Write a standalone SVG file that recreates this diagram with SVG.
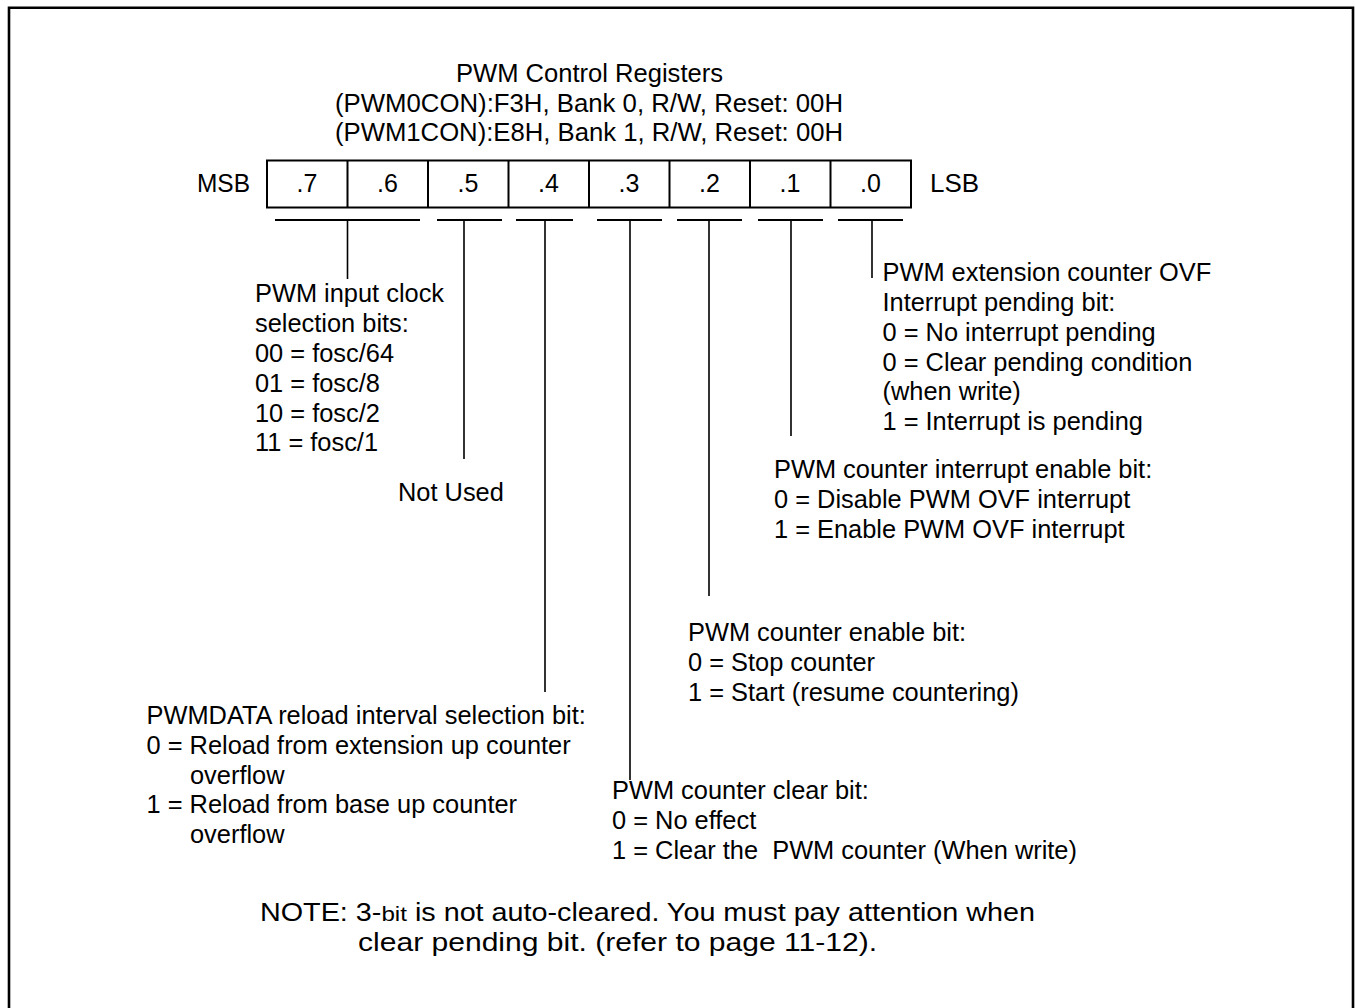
<svg xmlns="http://www.w3.org/2000/svg" width="1355" height="1008" viewBox="0 0 1355 1008">
<style>
text{font-family:"Liberation Sans",Arial,sans-serif;fill:#000}
.b{font-size:25.4px}
.n{font-family:"Liberation Sans Narrow","Liberation Sans",Arial,sans-serif;font-size:25px}
.bit{text-anchor:middle}
.cell{fill:none;stroke:#000;stroke-width:2}
.bar{stroke:#000;stroke-width:2;fill:none}
.lead{stroke:#000;stroke-width:1.6;fill:none}
</style>
<rect width="1355" height="1008" fill="#fff"/>
<path d="M9,1010 V7.7 H1353 V1010" fill="none" stroke="#000" stroke-width="2.6"/>
<g id="title">
<text class="n" x="589.5" y="82" text-anchor="middle" textLength="267" lengthAdjust="spacingAndGlyphs">PWM Control Registers</text>
<text class="n" x="589" y="112" text-anchor="middle" textLength="508" lengthAdjust="spacingAndGlyphs">(PWM0CON):F3H, Bank 0, R/W, Reset: 00H</text>
<text class="n" x="589" y="141" text-anchor="middle" textLength="508" lengthAdjust="spacingAndGlyphs">(PWM1CON):E8H, Bank 1, R/W, Reset: 00H</text>
</g>
<g id="register">
<text class="n" x="197" y="192" textLength="53" lengthAdjust="spacingAndGlyphs">MSB</text>
<rect class="cell" x="267" y="160.5" width="644" height="47"/>
<path class="cell" d="M347.5,160.5V207.5M428,160.5V207.5M508.5,160.5V207.5M589,160.5V207.5M669.5,160.5V207.5M750,160.5V207.5M830.5,160.5V207.5"/>
<text class="n bit" x="307" y="192">.7</text>
<text class="n bit" x="387.5" y="192">.6</text>
<text class="n bit" x="468" y="192">.5</text>
<text class="n bit" x="548.5" y="192">.4</text>
<text class="n bit" x="629" y="192">.3</text>
<text class="n bit" x="709.5" y="192">.2</text>
<text class="n bit" x="790" y="192">.1</text>
<text class="n bit" x="870.5" y="192">.0</text>
<text class="n" x="930" y="192" textLength="49" lengthAdjust="spacingAndGlyphs">LSB</text>
</g>
<g id="connectors">
<path class="bar" d="M275,220H420M437,220H502M516,220H573M597,220H662M677,220H742M758,220H823M838,220H903"/>
<path class="lead" d="M347.5,220V279M464,220V459M545,220V692M630,220V780M709,220V596M791,220V436M872,220V278"/>
</g>
<g id="bits76" class="b">
<text x="255" y="301.7">PWM input clock</text>
<text x="255" y="331.5">selection bits:</text>
<text x="255" y="361.5">00 = fosc/64</text>
<text x="255" y="391.5">01 = fosc/8</text>
<text x="255" y="421.5">10 = fosc/2</text>
<text x="255" y="450.7">11 = fosc/1</text>
</g>
<g id="bit5" class="b">
<text x="398" y="501">Not Used</text>
</g>
<g id="bit4" class="b">
<text x="146.5" y="724">PWMDATA reload interval selection bit:</text>
<text x="146.5" y="754">0 = Reload from extension up counter</text>
<text x="190" y="784">overflow</text>
<text x="146.5" y="813">1 = Reload from base up counter</text>
<text x="190" y="843">overflow</text>
</g>
<g id="bit3" class="b">
<text x="612" y="799">PWM counter clear bit:</text>
<text x="612" y="829">0 = No effect</text>
<text x="612" y="859" xml:space="preserve">1 = Clear the  PWM counter (When write)</text>
</g>
<g id="bit2" class="b">
<text x="688" y="641">PWM counter enable bit:</text>
<text x="688" y="671">0 = Stop counter</text>
<text x="688" y="701">1 = Start (resume countering)</text>
</g>
<g id="bit1" class="b">
<text x="774" y="478">PWM counter interrupt enable bit:</text>
<text x="774" y="508">0 = Disable PWM OVF interrupt</text>
<text x="774" y="538">1 = Enable PWM OVF interrupt</text>
</g>
<g id="bit0" class="b">
<text x="882.5" y="280.7">PWM extension counter OVF</text>
<text x="882.5" y="310.7">Interrupt pending bit:</text>
<text x="882.5" y="340.7">0 = No interrupt pending</text>
<text x="882.5" y="370.7">0 = Clear pending condition</text>
<text x="882.5" y="400.3">(when write)</text>
<text x="882.5" y="430">1 = Interrupt is pending</text>
</g>
<g id="note">
<text class="n" x="260" y="921" textLength="775" lengthAdjust="spacingAndGlyphs">NOTE: 3-<tspan font-size="21">bit</tspan> is not auto-cleared. You must pay attention when</text>
<text class="n" x="358" y="951" textLength="519" lengthAdjust="spacingAndGlyphs">clear pending bit. (refer to page 11-12).</text>
</g>
</svg>
